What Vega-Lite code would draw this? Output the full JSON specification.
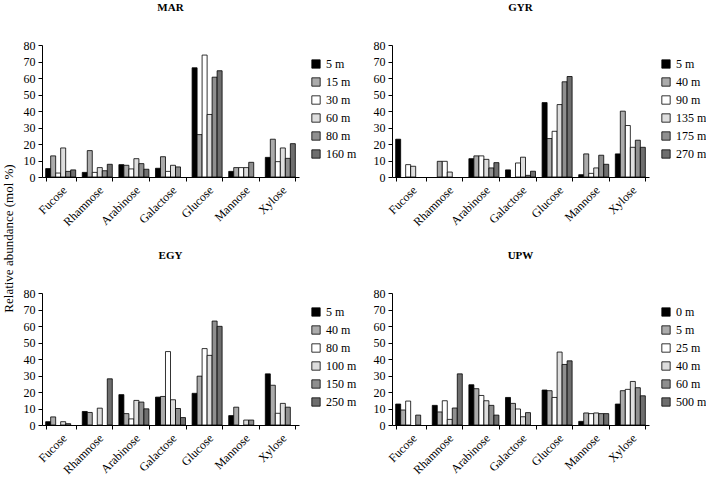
{
  "$schema": "https://vega.github.io/schema/vega-lite/v6.json",
  "background": "white",
  "padding": {"left": 2, "top": 2, "right": 0, "bottom": 0},
  "config": {
    "view": {"stroke": null},
    "font": "Liberation Serif, Times New Roman, serif",
    "axis": {
      "labelFont": "Liberation Serif, Times New Roman, serif",
      "labelFontSize": 12,
      "labelColor": "black",
      "domainColor": "black",
      "tickColor": "black",
      "tickSize": 4,
      "grid": false,
      "titleFont": "Liberation Serif, Times New Roman, serif",
      "titleColor": "black"
    },
    "axisX": {"tickBand": "extent", "labelAngle": -45, "title": null, "labelPadding": 3},
    "axisY": {"title": null, "labelPadding": 3, "labelOverlap": false},
    "legend": {
      "orient": "none",
      "legendX": 268,
      "legendY": 13,
      "title": null,
      "symbolType": "square",
      "symbolSize": 70,
      "symbolStrokeColor": "black",
      "symbolStrokeWidth": 1,
      "labelFont": "Liberation Serif, Times New Roman, serif",
      "labelFontSize": 12,
      "labelColor": "black",
      "rowPadding": 6
    },
    "title": {
      "font": "Liberation Serif, Times New Roman, serif",
      "fontSize": 11,
      "fontWeight": "bold",
      "color": "black",
      "anchor": "middle",
      "frame": "group",
      "offset": 26
    },
    "bar": {"stroke": "black", "strokeWidth": 0.8}
  },
  "datasets": {
    "sugars": [
      {"site": "MAR", "sugar": "Fucose", "depth": "5 m", "value": 5.1},
      {"site": "MAR", "sugar": "Fucose", "depth": "15 m", "value": 12.8},
      {"site": "MAR", "sugar": "Fucose", "depth": "30 m", "value": 2.4},
      {"site": "MAR", "sugar": "Fucose", "depth": "60 m", "value": 17.6},
      {"site": "MAR", "sugar": "Fucose", "depth": "80 m", "value": 3.4},
      {"site": "MAR", "sugar": "Fucose", "depth": "160 m", "value": 4.3},
      {"site": "MAR", "sugar": "Rhamnose", "depth": "5 m", "value": 2.8},
      {"site": "MAR", "sugar": "Rhamnose", "depth": "15 m", "value": 16.0},
      {"site": "MAR", "sugar": "Rhamnose", "depth": "30 m", "value": 2.8},
      {"site": "MAR", "sugar": "Rhamnose", "depth": "60 m", "value": 5.7},
      {"site": "MAR", "sugar": "Rhamnose", "depth": "80 m", "value": 3.8},
      {"site": "MAR", "sugar": "Rhamnose", "depth": "160 m", "value": 7.7},
      {"site": "MAR", "sugar": "Arabinose", "depth": "5 m", "value": 7.5},
      {"site": "MAR", "sugar": "Arabinose", "depth": "15 m", "value": 7.1},
      {"site": "MAR", "sugar": "Arabinose", "depth": "30 m", "value": 4.9},
      {"site": "MAR", "sugar": "Arabinose", "depth": "60 m", "value": 11.1},
      {"site": "MAR", "sugar": "Arabinose", "depth": "80 m", "value": 8.1},
      {"site": "MAR", "sugar": "Arabinose", "depth": "160 m", "value": 4.7},
      {"site": "MAR", "sugar": "Galactose", "depth": "5 m", "value": 5.3},
      {"site": "MAR", "sugar": "Galactose", "depth": "15 m", "value": 12.3},
      {"site": "MAR", "sugar": "Galactose", "depth": "30 m", "value": 3.4},
      {"site": "MAR", "sugar": "Galactose", "depth": "60 m", "value": 7.1},
      {"site": "MAR", "sugar": "Galactose", "depth": "80 m", "value": 6.1},
      {"site": "MAR", "sugar": "Glucose", "depth": "5 m", "value": 66.2},
      {"site": "MAR", "sugar": "Glucose", "depth": "15 m", "value": 25.7},
      {"site": "MAR", "sugar": "Glucose", "depth": "30 m", "value": 73.9},
      {"site": "MAR", "sugar": "Glucose", "depth": "60 m", "value": 37.9},
      {"site": "MAR", "sugar": "Glucose", "depth": "80 m", "value": 60.5},
      {"site": "MAR", "sugar": "Glucose", "depth": "160 m", "value": 64.4},
      {"site": "MAR", "sugar": "Mannose", "depth": "5 m", "value": 3.4},
      {"site": "MAR", "sugar": "Mannose", "depth": "15 m", "value": 5.7},
      {"site": "MAR", "sugar": "Mannose", "depth": "30 m", "value": 5.7},
      {"site": "MAR", "sugar": "Mannose", "depth": "60 m", "value": 5.7},
      {"site": "MAR", "sugar": "Mannose", "depth": "80 m", "value": 8.9},
      {"site": "MAR", "sugar": "Xylose", "depth": "5 m", "value": 11.9},
      {"site": "MAR", "sugar": "Xylose", "depth": "15 m", "value": 22.9},
      {"site": "MAR", "sugar": "Xylose", "depth": "30 m", "value": 9.3},
      {"site": "MAR", "sugar": "Xylose", "depth": "60 m", "value": 17.6},
      {"site": "MAR", "sugar": "Xylose", "depth": "80 m", "value": 11.3},
      {"site": "MAR", "sugar": "Xylose", "depth": "160 m", "value": 20.2},

      {"site": "GYR", "sugar": "Fucose", "depth": "5 m", "value": 22.9},
      {"site": "GYR", "sugar": "Fucose", "depth": "90 m", "value": 7.5},
      {"site": "GYR", "sugar": "Fucose", "depth": "135 m", "value": 6.5},
      {"site": "GYR", "sugar": "Rhamnose", "depth": "40 m", "value": 9.5},
      {"site": "GYR", "sugar": "Rhamnose", "depth": "90 m", "value": 9.5},
      {"site": "GYR", "sugar": "Rhamnose", "depth": "135 m", "value": 3.0},
      {"site": "GYR", "sugar": "Arabinose", "depth": "5 m", "value": 11.1},
      {"site": "GYR", "sugar": "Arabinose", "depth": "40 m", "value": 12.8},
      {"site": "GYR", "sugar": "Arabinose", "depth": "90 m", "value": 12.8},
      {"site": "GYR", "sugar": "Arabinose", "depth": "135 m", "value": 10.7},
      {"site": "GYR", "sugar": "Arabinose", "depth": "175 m", "value": 5.5},
      {"site": "GYR", "sugar": "Arabinose", "depth": "270 m", "value": 8.7},
      {"site": "GYR", "sugar": "Galactose", "depth": "5 m", "value": 4.3},
      {"site": "GYR", "sugar": "Galactose", "depth": "90 m", "value": 8.5},
      {"site": "GYR", "sugar": "Galactose", "depth": "135 m", "value": 12.0},
      {"site": "GYR", "sugar": "Galactose", "depth": "175 m", "value": 1.0},
      {"site": "GYR", "sugar": "Galactose", "depth": "270 m", "value": 3.5},
      {"site": "GYR", "sugar": "Glucose", "depth": "5 m", "value": 45.1},
      {"site": "GYR", "sugar": "Glucose", "depth": "40 m", "value": 23.3},
      {"site": "GYR", "sugar": "Glucose", "depth": "90 m", "value": 27.7},
      {"site": "GYR", "sugar": "Glucose", "depth": "135 m", "value": 43.9},
      {"site": "GYR", "sugar": "Glucose", "depth": "175 m", "value": 57.7},
      {"site": "GYR", "sugar": "Glucose", "depth": "270 m", "value": 60.9},
      {"site": "GYR", "sugar": "Mannose", "depth": "5 m", "value": 1.4},
      {"site": "GYR", "sugar": "Mannose", "depth": "40 m", "value": 14.0},
      {"site": "GYR", "sugar": "Mannose", "depth": "90 m", "value": 2.2},
      {"site": "GYR", "sugar": "Mannose", "depth": "135 m", "value": 5.5},
      {"site": "GYR", "sugar": "Mannose", "depth": "175 m", "value": 13.2},
      {"site": "GYR", "sugar": "Mannose", "depth": "270 m", "value": 7.7},
      {"site": "GYR", "sugar": "Xylose", "depth": "5 m", "value": 14.0},
      {"site": "GYR", "sugar": "Xylose", "depth": "40 m", "value": 39.9},
      {"site": "GYR", "sugar": "Xylose", "depth": "90 m", "value": 31.2},
      {"site": "GYR", "sugar": "Xylose", "depth": "135 m", "value": 18.0},
      {"site": "GYR", "sugar": "Xylose", "depth": "175 m", "value": 22.3},
      {"site": "GYR", "sugar": "Xylose", "depth": "270 m", "value": 18.0},

      {"site": "EGY", "sugar": "Fucose", "depth": "5 m", "value": 2.0},
      {"site": "EGY", "sugar": "Fucose", "depth": "40 m", "value": 4.9},
      {"site": "EGY", "sugar": "Fucose", "depth": "100 m", "value": 2.0},
      {"site": "EGY", "sugar": "Fucose", "depth": "150 m", "value": 0.8},
      {"site": "EGY", "sugar": "Rhamnose", "depth": "5 m", "value": 8.2},
      {"site": "EGY", "sugar": "Rhamnose", "depth": "40 m", "value": 7.6},
      {"site": "EGY", "sugar": "Rhamnose", "depth": "100 m", "value": 10.2},
      {"site": "EGY", "sugar": "Rhamnose", "depth": "250 m", "value": 28.0},
      {"site": "EGY", "sugar": "Arabinose", "depth": "5 m", "value": 18.4},
      {"site": "EGY", "sugar": "Arabinose", "depth": "40 m", "value": 6.9},
      {"site": "EGY", "sugar": "Arabinose", "depth": "80 m", "value": 3.7},
      {"site": "EGY", "sugar": "Arabinose", "depth": "100 m", "value": 14.9},
      {"site": "EGY", "sugar": "Arabinose", "depth": "150 m", "value": 13.9},
      {"site": "EGY", "sugar": "Arabinose", "depth": "250 m", "value": 9.8},
      {"site": "EGY", "sugar": "Galactose", "depth": "5 m", "value": 16.9},
      {"site": "EGY", "sugar": "Galactose", "depth": "40 m", "value": 17.3},
      {"site": "EGY", "sugar": "Galactose", "depth": "80 m", "value": 44.5},
      {"site": "EGY", "sugar": "Galactose", "depth": "100 m", "value": 15.3},
      {"site": "EGY", "sugar": "Galactose", "depth": "150 m", "value": 10.0},
      {"site": "EGY", "sugar": "Galactose", "depth": "250 m", "value": 4.5},
      {"site": "EGY", "sugar": "Glucose", "depth": "5 m", "value": 19.2},
      {"site": "EGY", "sugar": "Glucose", "depth": "40 m", "value": 29.6},
      {"site": "EGY", "sugar": "Glucose", "depth": "80 m", "value": 46.3},
      {"site": "EGY", "sugar": "Glucose", "depth": "100 m", "value": 42.2},
      {"site": "EGY", "sugar": "Glucose", "depth": "150 m", "value": 63.0},
      {"site": "EGY", "sugar": "Glucose", "depth": "250 m", "value": 59.8},
      {"site": "EGY", "sugar": "Mannose", "depth": "5 m", "value": 5.7},
      {"site": "EGY", "sugar": "Mannose", "depth": "40 m", "value": 10.8},
      {"site": "EGY", "sugar": "Mannose", "depth": "100 m", "value": 3.0},
      {"site": "EGY", "sugar": "Mannose", "depth": "150 m", "value": 3.0},
      {"site": "EGY", "sugar": "Xylose", "depth": "5 m", "value": 31.0},
      {"site": "EGY", "sugar": "Xylose", "depth": "40 m", "value": 24.1},
      {"site": "EGY", "sugar": "Xylose", "depth": "80 m", "value": 7.1},
      {"site": "EGY", "sugar": "Xylose", "depth": "100 m", "value": 13.1},
      {"site": "EGY", "sugar": "Xylose", "depth": "150 m", "value": 10.8},

      {"site": "UPW", "sugar": "Fucose", "depth": "0 m", "value": 12.7},
      {"site": "UPW", "sugar": "Fucose", "depth": "5 m", "value": 9.1},
      {"site": "UPW", "sugar": "Fucose", "depth": "25 m", "value": 14.5},
      {"site": "UPW", "sugar": "Fucose", "depth": "60 m", "value": 6.0},
      {"site": "UPW", "sugar": "Rhamnose", "depth": "0 m", "value": 11.9},
      {"site": "UPW", "sugar": "Rhamnose", "depth": "5 m", "value": 7.9},
      {"site": "UPW", "sugar": "Rhamnose", "depth": "25 m", "value": 14.7},
      {"site": "UPW", "sugar": "Rhamnose", "depth": "40 m", "value": 3.4},
      {"site": "UPW", "sugar": "Rhamnose", "depth": "60 m", "value": 10.3},
      {"site": "UPW", "sugar": "Rhamnose", "depth": "500 m", "value": 31.0},
      {"site": "UPW", "sugar": "Arabinose", "depth": "0 m", "value": 24.4},
      {"site": "UPW", "sugar": "Arabinose", "depth": "5 m", "value": 22.0},
      {"site": "UPW", "sugar": "Arabinose", "depth": "25 m", "value": 17.9},
      {"site": "UPW", "sugar": "Arabinose", "depth": "40 m", "value": 14.7},
      {"site": "UPW", "sugar": "Arabinose", "depth": "60 m", "value": 11.9},
      {"site": "UPW", "sugar": "Arabinose", "depth": "500 m", "value": 6.0},
      {"site": "UPW", "sugar": "Galactose", "depth": "0 m", "value": 16.7},
      {"site": "UPW", "sugar": "Galactose", "depth": "5 m", "value": 13.1},
      {"site": "UPW", "sugar": "Galactose", "depth": "25 m", "value": 9.7},
      {"site": "UPW", "sugar": "Galactose", "depth": "40 m", "value": 5.0},
      {"site": "UPW", "sugar": "Galactose", "depth": "60 m", "value": 7.5},
      {"site": "UPW", "sugar": "Glucose", "depth": "0 m", "value": 21.2},
      {"site": "UPW", "sugar": "Glucose", "depth": "5 m", "value": 20.8},
      {"site": "UPW", "sugar": "Glucose", "depth": "25 m", "value": 16.7},
      {"site": "UPW", "sugar": "Glucose", "depth": "40 m", "value": 44.2},
      {"site": "UPW", "sugar": "Glucose", "depth": "60 m", "value": 36.7},
      {"site": "UPW", "sugar": "Glucose", "depth": "500 m", "value": 38.9},
      {"site": "UPW", "sugar": "Mannose", "depth": "0 m", "value": 2.2},
      {"site": "UPW", "sugar": "Mannose", "depth": "5 m", "value": 7.3},
      {"site": "UPW", "sugar": "Mannose", "depth": "25 m", "value": 6.9},
      {"site": "UPW", "sugar": "Mannose", "depth": "40 m", "value": 7.3},
      {"site": "UPW", "sugar": "Mannose", "depth": "60 m", "value": 6.9},
      {"site": "UPW", "sugar": "Mannose", "depth": "500 m", "value": 6.9},
      {"site": "UPW", "sugar": "Xylose", "depth": "0 m", "value": 12.7},
      {"site": "UPW", "sugar": "Xylose", "depth": "5 m", "value": 20.8},
      {"site": "UPW", "sugar": "Xylose", "depth": "25 m", "value": 21.6},
      {"site": "UPW", "sugar": "Xylose", "depth": "40 m", "value": 26.4},
      {"site": "UPW", "sugar": "Xylose", "depth": "60 m", "value": 22.6},
      {"site": "UPW", "sugar": "Xylose", "depth": "500 m", "value": 17.7}
    ]
  },
  "bounds": "flush",
  "columns": 2,
  "spacing": {"row": 116, "column": 93},
  "resolve": {
    "scale": {"x": "independent", "y": "independent", "xOffset": "independent", "color": "independent"},
    "legend": {"color": "independent"},
    "axis": {"x": "independent", "y": "independent"}
  },
  "concat": [
    {
      "title": "MAR",
      "width": 257,
      "height": 132,
      "data": {"name": "sugars"},
      "transform": [{"filter": "datum.site === 'MAR'"}],
      "mark": "bar",
      "encoding": {
        "x": {"field": "sugar", "type": "nominal",
              "scale": {"domain": ["Fucose", "Rhamnose", "Arabinose", "Galactose", "Glucose", "Mannose", "Xylose"], "paddingInner": 0.18, "paddingOuter": 0.1}},
        "xOffset": {"field": "depth", "type": "nominal",
                    "scale": {"domain": ["5 m", "15 m", "30 m", "60 m", "80 m", "160 m"], "paddingInner": 0}},
        "y": {"field": "value", "type": "quantitative", "scale": {"domain": [0, 80]},
              "axis": {"values": [0, 10, 20, 30, 40, 50, 60, 70, 80],
                       "title": "Relative abundance (mol %)", "titleAngle": -90, "titleAlign": "center",
                       "titleBaseline": "middle", "titleX": -34, "titleY": 193, "titleFontSize": 13,
                       "titleFontWeight": "normal"}},
        "color": {"field": "depth", "type": "nominal",
                  "scale": {"domain": ["5 m", "15 m", "30 m", "60 m", "80 m", "160 m"],
                            "range": ["#000000", "#ababab", "#ffffff", "#dedede", "#8f8f8f", "#6e6e6e"]}}
      }
    },
    {
      "title": "GYR",
      "width": 257,
      "height": 132,
      "data": {"name": "sugars"},
      "transform": [{"filter": "datum.site === 'GYR'"}],
      "mark": "bar",
      "encoding": {
        "x": {"field": "sugar", "type": "nominal",
              "scale": {"domain": ["Fucose", "Rhamnose", "Arabinose", "Galactose", "Glucose", "Mannose", "Xylose"], "paddingInner": 0.18, "paddingOuter": 0.1}},
        "xOffset": {"field": "depth", "type": "nominal",
                    "scale": {"domain": ["5 m", "40 m", "90 m", "135 m", "175 m", "270 m"], "paddingInner": 0}},
        "y": {"field": "value", "type": "quantitative", "scale": {"domain": [0, 80]},
              "axis": {"values": [0, 10, 20, 30, 40, 50, 60, 70, 80]}},
        "color": {"field": "depth", "type": "nominal",
                  "scale": {"domain": ["5 m", "40 m", "90 m", "135 m", "175 m", "270 m"],
                            "range": ["#000000", "#ababab", "#ffffff", "#dedede", "#8f8f8f", "#6e6e6e"]}}
      }
    },
    {
      "title": "EGY",
      "width": 257,
      "height": 132,
      "data": {"name": "sugars"},
      "transform": [{"filter": "datum.site === 'EGY'"}],
      "mark": "bar",
      "encoding": {
        "x": {"field": "sugar", "type": "nominal",
              "scale": {"domain": ["Fucose", "Rhamnose", "Arabinose", "Galactose", "Glucose", "Mannose", "Xylose"], "paddingInner": 0.18, "paddingOuter": 0.1}},
        "xOffset": {"field": "depth", "type": "nominal",
                    "scale": {"domain": ["5 m", "40 m", "80 m", "100 m", "150 m", "250 m"], "paddingInner": 0}},
        "y": {"field": "value", "type": "quantitative", "scale": {"domain": [0, 80]},
              "axis": {"values": [0, 10, 20, 30, 40, 50, 60, 70, 80]}},
        "color": {"field": "depth", "type": "nominal",
                  "scale": {"domain": ["5 m", "40 m", "80 m", "100 m", "150 m", "250 m"],
                            "range": ["#000000", "#ababab", "#ffffff", "#dedede", "#8f8f8f", "#6e6e6e"]}}
      }
    },
    {
      "title": "UPW",
      "width": 257,
      "height": 132,
      "data": {"name": "sugars"},
      "transform": [{"filter": "datum.site === 'UPW'"}],
      "mark": "bar",
      "encoding": {
        "x": {"field": "sugar", "type": "nominal",
              "scale": {"domain": ["Fucose", "Rhamnose", "Arabinose", "Galactose", "Glucose", "Mannose", "Xylose"], "paddingInner": 0.18, "paddingOuter": 0.1}},
        "xOffset": {"field": "depth", "type": "nominal",
                    "scale": {"domain": ["0 m", "5 m", "25 m", "40 m", "60 m", "500 m"], "paddingInner": 0}},
        "y": {"field": "value", "type": "quantitative", "scale": {"domain": [0, 80]},
              "axis": {"values": [0, 10, 20, 30, 40, 50, 60, 70, 80]}},
        "color": {"field": "depth", "type": "nominal",
                  "scale": {"domain": ["0 m", "5 m", "25 m", "40 m", "60 m", "500 m"],
                            "range": ["#000000", "#ababab", "#ffffff", "#dedede", "#8f8f8f", "#6e6e6e"]}}
      }
    }
  ]
}
